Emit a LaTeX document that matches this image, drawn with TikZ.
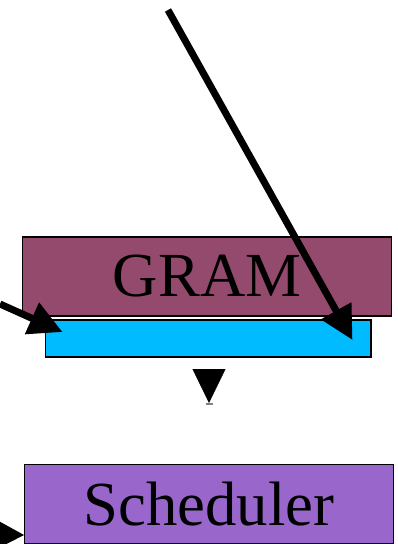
\documentclass[tikz,border=0pt]{standalone}
\usepackage{fontspec}
\setmainfont{Liberation Serif}
\usepackage{tikz}
\usetikzlibrary{arrows.meta, positioning, calc}
\usepackage{xcolor}
\definecolor{gramfill}{RGB}{148,74,108}
\definecolor{slotfill}{RGB}{0,187,255}
\definecolor{schedfill}{RGB}{153,102,204}

\begin{document}
\begin{tikzpicture}[
    x=0.02cm, y=-0.02cm,
    box/.style={draw, line width=0.6pt, inner sep=0pt, minimum width=7.4cm, minimum height=1.58cm,
                align=center, font=\fontsize{35.7pt}{40pt}\selectfont},
    slot/.style={draw, line width=0.6pt, inner sep=0pt, minimum width=6.52cm, minimum height=0.74cm},
    arrow/.style={-{Triangle[length=0.67cm, width=0.66cm]}, line width=4pt, black},
    tiponly/.style={-{Triangle[length=0.68cm, width=0.66cm]}, line width=0.2pt, black},
]
\useasboundingbox (0,0) rectangle (398,544);
\clip (0,0) rectangle (398,544);

% ===== GRAM =====
\node[box, fill=gramfill] (gram) at (207, 276.5) {GRAM};
\node[slot, fill=slotfill] (slot) at (208, 338.5) {};

% ===== Scheduler =====
\node[box, fill=schedfill] (sched) at (209, 504) {Scheduler};

% ===== incoming arrows =====
\coordinate (ltail) at (0, 304);
\coordinate (ttail) at (168, 10);
\coordinate (btail) at (-40, 534);
\draw[arrow] (ltail) -- ($(slot.west)+(18,-6.5)$);
\draw[arrow] (ttail) -- ($(slot.east)+(-19,1.5)$);
\draw[arrow] (btail) -- ($(sched.south west)+(1,-9)$);

% ===== slot -> scheduler (head only) =====
\coordinate (dtail) at (209, 369);
\coordinate (dtip)  at (209, 403);
\draw[tiponly] (dtail) -- (dtip);
\draw[black!50, line width=1pt] ($(dtip)+(-3.5,1)$) -- ($(dtip)+(3.5,1)$);
\end{tikzpicture}
\end{document}
